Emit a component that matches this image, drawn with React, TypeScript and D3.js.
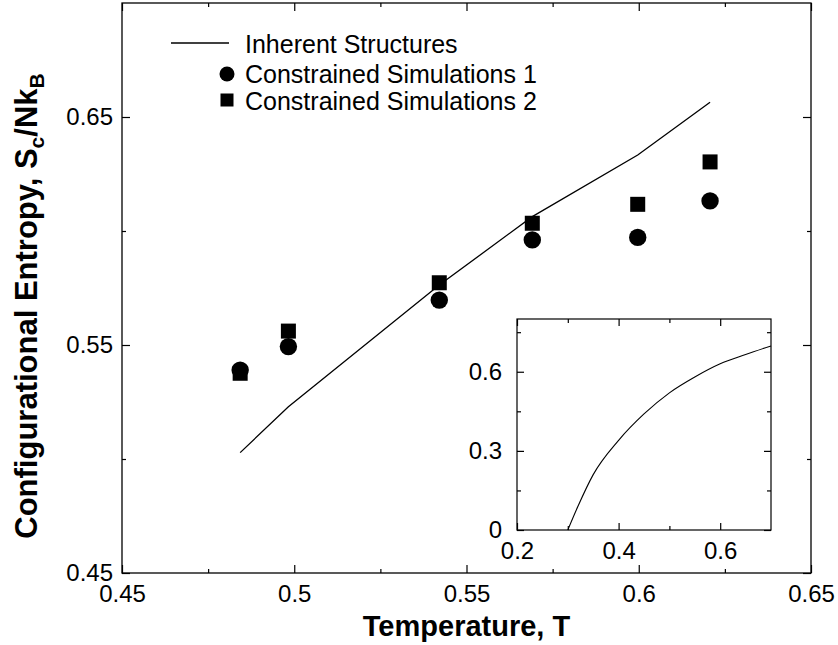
import * as d3 from "d3";
import React, { useRef, useEffect } from "react";

// temperatures of the simulated state points
const temps = [0.4843, 0.4983, 0.5421, 0.5691, 0.5997, 0.6207];
// inherent structures curve (drawn through the same temperatures)
const inherentS = [0.5028, 0.5229, 0.5763, 0.6063, 0.6333, 0.6565];
// constrained simulations
const sim1S = [0.539, 0.5493, 0.5697, 0.5961, 0.5972, 0.6132];
const sim2S = [0.5376, 0.5561, 0.5773, 0.6034, 0.6117, 0.6303];

const xTicks = [0.45, 0.5, 0.55, 0.6, 0.65];
const xMinor = [0.475, 0.525, 0.575, 0.625];
const yTicks = [0.45, 0.55, 0.65];
const yMinor = [0.5, 0.6];

// inset: full curve
const insetT = [0.3, 0.32, 0.35, 0.4, 0.45, 0.5, 0.55, 0.6, 0.65, 0.7];
const insetS = [0.0, 0.09, 0.21, 0.34, 0.44, 0.52, 0.58, 0.63, 0.665, 0.698];
const insetXTicks = [0.2, 0.4, 0.6];
const insetXMinor = [0.3, 0.5];
const insetYTicks = [0, 0.3, 0.6];
const insetYMinor = [0.15, 0.45, 0.75];

const FONT = "'Liberation Sans', Arial, Helvetica, sans-serif";

const App = () => {
  const svgRef = useRef<SVGSVGElement>(null);

  useEffect(() => {
    const svg = d3.select(svgRef.current);
    svg.selectAll("*").remove();

    const left = 122, right = 811, top = 3, bottom = 573;
    const x = d3.scaleLinear().domain([0.45, 0.65]).range([left, right]);
    const y = d3.scaleLinear().domain([0.45, 0.7]).range([bottom, top]);

    const styleAxis = (g, size = 24) => {
      g.select(".domain").remove();
      g.selectAll("line").attr("stroke", "#000").attr("stroke-width", 1.2);
      g.selectAll("text")
        .attr("fill", "#000")
        .style("font-family", FONT)
        .style("font-size", size + "px");
    };
    const fmt = (d) => String(d);
    const none = () => "";

    // ticks on all four sides, major then minor
    const sides = [
      { axis: d3.axisBottom(x), pos: `translate(0,${bottom})`, major: xTicks, minor: xMinor, labels: true, pad: 12 },
      { axis: d3.axisTop(x), pos: `translate(0,${top})`, major: xTicks, minor: xMinor, labels: false, pad: 0 },
      { axis: d3.axisLeft(y), pos: `translate(${left},0)`, major: yTicks, minor: yMinor, labels: true, pad: 9 },
      { axis: d3.axisRight(y), pos: `translate(${right},0)`, major: yTicks, minor: yMinor, labels: false, pad: 0 },
    ];
    sides.forEach((s) => {
      svg.append("g").attr("transform", s.pos)
        .call(s.axis.tickValues(s.major).tickSizeInner(-8).tickSizeOuter(0).tickPadding(s.pad).tickFormat(s.labels ? fmt : none))
        .call(styleAxis);
      svg.append("g").attr("transform", s.pos)
        .call(s.axis.tickValues(s.minor).tickSizeInner(-4).tickSizeOuter(0).tickFormat(none))
        .call(styleAxis);
    });

    // frame
    svg.append("rect")
      .attr("x", left).attr("y", top)
      .attr("width", right - left).attr("height", bottom - top)
      .attr("fill", "none").attr("stroke", "#000").attr("stroke-width", 1.3);

    // axis titles
    svg.append("text")
      .attr("x", (left + right) / 2).attr("y", 636)
      .attr("text-anchor", "middle")
      .style("font-family", FONT).style("font-size", "29px").style("font-weight", "bold")
      .text("Temperature, T");

    const yTitle = svg.append("text")
      .attr("transform", `translate(37,306) rotate(-90)`)
      .attr("text-anchor", "middle")
      .style("font-family", FONT).style("font-size", "31px").style("font-weight", "bold");
    yTitle.append("tspan").text("Configurational Entropy, S");
    yTitle.append("tspan").attr("dy", 7).style("font-size", "21px").text("c");
    yTitle.append("tspan").attr("dy", -7).text("/Nk");
    yTitle.append("tspan").attr("dy", 7).style("font-size", "21px").text("B");

    // inherent structures line
    const pts = temps.map((t, i) => [t, inherentS[i]]);
    svg.append("path")
      .datum(pts)
      .attr("d", d3.line().x((d) => x(d[0])).y((d) => y(d[1])))
      .attr("fill", "none").attr("stroke", "#000").attr("stroke-width", 1.3);

    // constrained simulations 2 (squares), then 1 (circles) on top
    const sq = 15;
    svg.selectAll(".sim2")
      .data(temps.map((t, i) => [t, sim2S[i]]))
      .enter().append("rect")
      .attr("class", "sim2")
      .attr("x", (d) => x(d[0]) - sq / 2).attr("y", (d) => y(d[1]) - sq / 2)
      .attr("width", sq).attr("height", sq).attr("fill", "#000");
    svg.selectAll(".sim1")
      .data(temps.map((t, i) => [t, sim1S[i]]))
      .enter().append("circle")
      .attr("class", "sim1")
      .attr("cx", (d) => x(d[0])).attr("cy", (d) => y(d[1]))
      .attr("r", 8.7).attr("fill", "#000");

    // legend
    const lg = svg.append("g").style("font-family", FONT).style("font-size", "25px");
    lg.append("line").attr("x1", 171).attr("x2", 229).attr("y1", 43).attr("y2", 43)
      .attr("stroke", "#000").attr("stroke-width", 1.3);
    lg.append("text").attr("x", 245).attr("y", 53).text("Inherent Structures");
    lg.append("circle").attr("cx", 227).attr("cy", 74).attr("r", 7.5).attr("fill", "#000");
    lg.append("text").attr("x", 245).attr("y", 83).text("Constrained Simulations 1");
    lg.append("rect").attr("x", 220.5).attr("y", 93.5).attr("width", 13).attr("height", 13).attr("fill", "#000");
    lg.append("text").attr("x", 245).attr("y", 110).text("Constrained Simulations 2");

    // inset
    const iL = 517, iR = 771, iT = 319, iB = 530;
    const ix = d3.scaleLinear().domain([0.2, 0.7]).range([iL, iR]);
    const iy = d3.scaleLinear().domain([0, 0.8]).range([iB, iT]);
    svg.append("rect")
      .attr("x", iL).attr("y", iT).attr("width", iR - iL).attr("height", iB - iT)
      .attr("fill", "#fff");
    const insetSides = [
      { axis: d3.axisBottom(ix), pos: `translate(0,${iB})`, major: insetXTicks, minor: insetXMinor, labels: true, pad: 12 },
      { axis: d3.axisTop(ix), pos: `translate(0,${iT})`, major: insetXTicks, minor: insetXMinor, labels: false, pad: 0 },
      { axis: d3.axisLeft(iy), pos: `translate(${iL},0)`, major: insetYTicks, minor: insetYMinor, labels: true, pad: 15 },
      { axis: d3.axisRight(iy), pos: `translate(${iR},0)`, major: insetYTicks, minor: insetYMinor, labels: false, pad: 0 },
    ];
    insetSides.forEach((s) => {
      svg.append("g").attr("transform", s.pos)
        .call(s.axis.tickValues(s.major).tickSizeInner(-7).tickSizeOuter(0).tickPadding(s.pad).tickFormat(s.labels ? fmt : none))
        .call(styleAxis);
      svg.append("g").attr("transform", s.pos)
        .call(s.axis.tickValues(s.minor).tickSizeInner(-4).tickSizeOuter(0).tickFormat(none))
        .call(styleAxis);
    });
    svg.append("rect")
      .attr("x", iL).attr("y", iT).attr("width", iR - iL).attr("height", iB - iT)
      .attr("fill", "none").attr("stroke", "#000").attr("stroke-width", 1.2);

    svg.append("path")
      .datum(insetT.map((t, i) => [t, insetS[i]]))
      .attr("d", d3.line().x((d) => ix(d[0])).y((d) => iy(d[1])).curve(d3.curveMonotoneX))
      .attr("fill", "none").attr("stroke", "#000").attr("stroke-width", 1.1);
  }, []);

  return (
    <div style={{ position: "absolute", left: 0, top: 0, width: 838, height: 645, background: "#fff" }}>
      <svg ref={svgRef} width={838} height={645} style={{ display: "block" }}></svg>
    </div>
  );
};

export default App;
